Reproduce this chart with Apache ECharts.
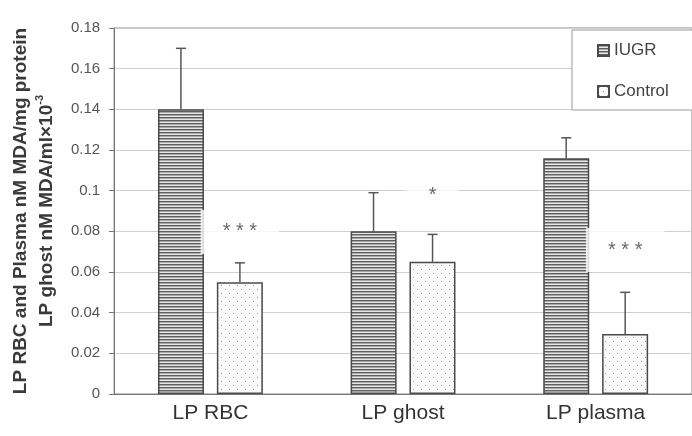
<!DOCTYPE html>
<html>
<head>
<meta charset="utf-8">
<script src="https://cdn.jsdelivr.net/npm/echarts@6/dist/echarts.min.js"></script>
<style>
  html, body { margin: 0; background: #fff; }
  #chart { width: 692px; height: 436px; }
</style>
</head>
<body>
<div id="chart"></div>
<script>
// values
const categories = ["LP RBC", "LP ghost", "LP plasma"];
const iugrValues = [0.140, 0.080, 0.116];
const iugrErrors = [0.030, 0.019, 0.010];
const controlValues = [0.055, 0.065, 0.0295];
const controlErrors = [0.0095, 0.0135, 0.0205];
const sigLabels = ["* * *", "*", "* * *"];
const sigLevels = [0.0797, 0.0974, 0.0708];

const FONT = "Liberation Sans";
const AXIS = "#777";
const ERR = "#555";
const BAR_SHIFT = 29.5; // half of bar width + gap

// hatch fills like the original print
function stripes() {
  const c = document.createElement("canvas");
  c.width = 4; c.height = 3;
  const g = c.getContext("2d");
  g.fillStyle = "#e8e8e8"; g.fillRect(0, 0, 4, 3);
  g.fillStyle = "#5f5f5f"; g.fillRect(0, 0, 4, 1);
  g.fillStyle = "#a8a8a8"; g.fillRect(0, 1, 4, 1);
  return c;
}
function dots() {
  const c = document.createElement("canvas");
  c.width = 8; c.height = 8;
  const g = c.getContext("2d");
  g.fillStyle = "#fbfbfb"; g.fillRect(0, 0, 8, 8);
  g.fillStyle = "#a0a0a0";
  g.fillRect(1, 1, 1, 1);
  g.fillRect(5, 5, 1, 1);
  return c;
}

function errorBar(shift) {
  return function (params, api) {
    const base = api.coord([api.value(0), api.value(1)]);
    const top = api.coord([api.value(0), api.value(2)]);
    const x = base[0] + shift;
    const style = { stroke: ERR, lineWidth: 1.5 };
    return {
      type: "group",
      children: [
        { type: "line", shape: { x1: x, y1: base[1], x2: x, y2: top[1] }, style },
        { type: "line", shape: { x1: x - 5, y1: top[1], x2: x + 5, y2: top[1] }, style },
      ],
    };
  };
}

const chart = echarts.init(document.getElementById("chart"));
chart.setOption({
  animation: false,
  textStyle: { fontFamily: FONT },
  grid: { left: 110, top: 28, width: 588, height: 366, show: true, borderColor: "#888", borderWidth: 1 },
  legend: {
    data: ["IUGR", "Control"],
    orient: "vertical",
    left: 572,
    top: 30,
    padding: [12, 30, 10, 25],
    itemGap: 24,
    itemWidth: 11,
    itemHeight: 11,
    icon: "rect",
    backgroundColor: "#fff",
    borderColor: "#999",
    borderWidth: 1,
    textStyle: { fontFamily: FONT, fontSize: 17, color: "#444" },
  },
  xAxis: {
    type: "category",
    data: categories,
    axisLine: { lineStyle: { color: AXIS } },
    axisTick: { length: 6, lineStyle: { color: AXIS } },
    axisLabel: { fontFamily: FONT, fontSize: 21, color: "#333", margin: 9 },
  },
  yAxis: {
    type: "value",
    min: 0,
    max: 0.18,
    interval: 0.02,
    name: "LP RBC and Plasma nM MDA/mg protein\nLP ghost nM MDA/ml×10{sup|-3}",
    nameLocation: "middle",
    nameRotate: 90,
    nameGap: 50,
    nameTextStyle: {
      fontFamily: FONT,
      fontWeight: "bold",
      fontSize: 19,
      lineHeight: 26,
      color: "#3a3a3a",
      rich: {
        sup: { fontFamily: FONT, fontWeight: "bold", fontSize: 11, lineHeight: 14, verticalAlign: "top", color: "#3a3a3a" },
      },
    },
    axisLine: { show: true, lineStyle: { color: AXIS } },
    axisTick: { show: true, length: 5, lineStyle: { color: AXIS } },
    axisLabel: { fontFamily: FONT, fontSize: 15, color: "#555", margin: 14 },
    splitLine: { lineStyle: { color: "#cfcfcf" } },
  },
  series: [
    {
      name: "IUGR",
      type: "bar",
      data: iugrValues,
      barWidth: 46,
      barGap: "28%",
      itemStyle: { color: { image: stripes(), repeat: "repeat" }, borderColor: "#4a4a4a", borderWidth: 1.5 },
    },
    {
      name: "Control",
      type: "bar",
      data: controlValues,
      barWidth: 46,
      itemStyle: { color: { image: dots(), repeat: "repeat" }, borderColor: "#4a4a4a", borderWidth: 1.5 },
    },
    {
      type: "custom",
      renderItem: errorBar(-BAR_SHIFT),
      data: iugrValues.map((v, i) => [i, v, v + iugrErrors[i]]),
      z: 5,
    },
    {
      type: "custom",
      renderItem: errorBar(BAR_SHIFT),
      data: controlValues.map((v, i) => [i, v, v + controlErrors[i]]),
      z: 5,
    },
    {
      type: "scatter",
      symbolSize: 0,
      data: sigLevels.map((v, i) => [i, v]),
      label: {
        show: true,
        position: "inside",
        offset: [BAR_SHIFT, 0],
        formatter: (p) => sigLabels[p.dataIndex],
        fontFamily: FONT,
        fontSize: 20,
        color: "#444",
        backgroundColor: "#fff",
        padding: [16, 22, 8, 22],
      },
      z: 4,
    },
  ],
});
</script>
</body>
</html>
